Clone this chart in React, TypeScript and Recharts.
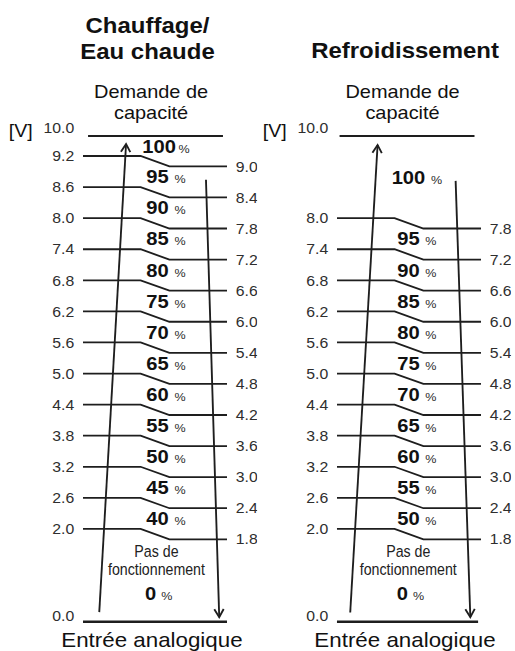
import React from 'react';
import { ComposedChart, Line, Scatter, XAxis, YAxis } from 'recharts';

// ---------------- data ----------------
const inputMin = 0.0;
const inputMax = 10.0;
const offPercent = 0;

const heatRising = [9.2, 8.6, 8.0, 7.4, 6.8, 6.2, 5.6, 5.0, 4.4, 3.8, 3.2, 2.6, 2.0];
const heatFalling = [9.0, 8.4, 7.8, 7.2, 6.6, 6.0, 5.4, 4.8, 4.2, 3.6, 3.0, 2.4, 1.8];
const heatPercents = [100, 95, 90, 85, 80, 75, 70, 65, 60, 55, 50, 45, 40];

const coolRising = [8.0, 7.4, 6.8, 6.2, 5.6, 5.0, 4.4, 3.8, 3.2, 2.6, 2.0];
const coolFalling = [7.8, 7.2, 6.6, 6.0, 5.4, 4.8, 4.2, 3.6, 3.0, 2.4, 1.8];
const coolPercents = [100, 95, 90, 85, 80, 75, 70, 65, 60, 55, 50];

const heatTitle = ['Chauffage/', 'Eau chaude'];
const coolTitle = ['Refroidissement'];
const headerLines = ['Demande de', 'capacité'];
const footerText = 'Entrée analogique';
const offLines = ['Pas de', 'fonctionnement'];
const unitLabel = '[V]';

// ---------------- layout / style ----------------
const S = 1.09; // horizontal stretch of the whole drawing
const NARROW_K = 0.79; // horizontal squeeze of the condensed label
const FONT = "'Liberation Sans', Arial, Helvetica, sans-serif";
const INK = '#1e1e1e';
const LABEL = '#2e2e2e';
const PANEL_W = 236;
const PANEL_H = 651;
const PLOT_TOP = 136;
const PLOT_BOTTOM = 29.3;
const LEFT_AXIS_W = 76.15;
const RIGHT_AXIS_W = 27.74;
const STEP_X = [0, 40, 60, 100];

// broken (piecewise linear) vertical axis of the schematic
const AXIS_BREAKS = [0, 1.8, 9.2, 10];
const AXIS_FRACTIONS = [0, 0.16965, 0.95882, 1];

function toFraction(v: number) {
  const n = AXIS_BREAKS.length;
  for (let i = 1; i < n; i++) {
    if (v <= AXIS_BREAKS[i] || i === n - 1) {
      const a = AXIS_BREAKS[i - 1], b = AXIS_BREAKS[i];
      const fa = AXIS_FRACTIONS[i - 1], fb = AXIS_FRACTIONS[i];
      return fa + ((v - a) / (b - a)) * (fb - fa);
    }
  }
  return 0;
}
function fromFraction(f: number) {
  const n = AXIS_FRACTIONS.length;
  for (let i = 1; i < n; i++) {
    if (f <= AXIS_FRACTIONS[i] || i === n - 1) {
      const a = AXIS_BREAKS[i - 1], b = AXIS_BREAKS[i];
      const fa = AXIS_FRACTIONS[i - 1], fb = AXIS_FRACTIONS[i];
      return a + ((f - fa) / (fb - fa)) * (b - a);
    }
  }
  return 0;
}
function bandMid(a: number, b: number) {
  return fromFraction((toFraction(a) + toFraction(b)) / 2);
}
function brokenScale(dom: number[] = [0, 10], rng: number[] = [0, 1]): any {
  const s: any = (v: number) => rng[0] + toFraction(v) * (rng[1] - rng[0]);
  s.domain = (d?: number[]) => {
    if (d === undefined) return dom.slice();
    dom = d.slice();
    return s;
  };
  s.range = (r?: number[]) => {
    if (r === undefined) return rng.slice();
    rng = r.slice();
    return s;
  };
  s.copy = () => brokenScale(dom.slice(), rng.slice());
  s.ticks = () => AXIS_BREAKS.slice();
  s.tickFormat = () => (v: number) => String(v);
  s.invert = (px: number) => fromFraction((px - rng[0]) / (rng[1] - rng[0]));
  s.nice = () => s;
  s.clamp = () => s;
  return s;
}

const PANELS = [
  {
    key: 'heat', title: heatTitle, rising: heatRising, falling: heatFalling, pcts: heatPercents,
    offsetX: 0, titleX: 135.3, titleY: [33.5, 59], headerX: 138.6, headerY: [98.5, 119], footerX: 139.4,
    pctX: 57.6, offX: 51, topLine: [3.5, 97.2], bottomLine: [0, 100],
    up: [[11.3, 0.21], [29.9, 9.68]], down: [[85.4, 8.74], [94.6, 0.1]], tightTop: true,
  },
  {
    key: 'cool', title: coolTitle, rising: coolRising, falling: coolFalling, pcts: coolPercents,
    offsetX: 233, titleX: 138.6, titleY: [58.3], headerX: 136.3, headerY: [98.5, 119], footerX: 138.6,
    pctX: 55.5, offX: 49.5, topLine: [1.8, 95.5], bottomLine: [0, 98],
    up: [[9.2, 0.2], [28.2, 9.64]], down: [[82.4, 8.72], [92.6, 0.1]], tightTop: false,
  },
];

// ---------------- renderers ----------------
const renderLeftTick = (p: any) => {
  const v = Number(p.payload.value);
  const dy = v === inputMax ? -2.7 : v === inputMin ? -1 : 5.2;
  return (
    <g>
      <text x={p.x} y={p.y + dy} textAnchor="end" fontFamily={FONT} fontSize={14.5} fill={LABEL}>
        {v.toFixed(1)}
      </text>
      {v === inputMax ? (
        <text x={p.x - 38.1} y={p.y + 0.7} textAnchor="end" fontFamily={FONT} fontSize={18} fill="#111">
          {unitLabel}
        </text>
      ) : null}
    </g>
  );
};

const renderRightTick = (p: any) => {
  const v = Number(p.payload.value);
  return (
    <text x={p.x} y={p.y + 5.2} textAnchor="start" fontFamily={FONT} fontSize={14.5} fill={LABEL}>
      {v.toFixed(1)}
    </text>
  );
};

const PercentMark = (props: any) => {
  const { cx, cy, payload } = props;
  return (
    <text x={cx} y={cy + 6.6} textAnchor="middle" fontFamily={FONT} fill="#111">
      <tspan fontSize={18.5} fontWeight="bold">{payload.pct}</tspan>
      <tspan dx={payload.tight ? 2.3 : 5.2} fontSize={11.5} fill={LABEL}>%</tspan>
    </text>
  );
};

const OffMark = (props: any) => {
  const { cx, cy, payload } = props;
  return (
    <g>
      <g transform={`translate(${cx} 0) scale(${NARROW_K} 1)`}>
        <text x={0} y={cy - 23.5} textAnchor="middle" fontFamily={FONT} fontSize={16.5} fill="#222">
          {offLines[0]}
        </text>
        <text x={0} y={cy - 5.5} textAnchor="middle" fontFamily={FONT} fontSize={16.5} fill="#222">
          {offLines[1]}
        </text>
      </g>
      <text x={cx + 2} y={cy + 19.5} textAnchor="middle" fontFamily={FONT} fill="#111">
        <tspan fontSize={18.5} fontWeight="bold">{payload.pct}</tspan>
        <tspan dx={4.6} fontSize={11.5} fill={LABEL}>%</tspan>
      </text>
    </g>
  );
};

function Panel({ cfg }: any) {
  const n = cfg.rising.length;
  const steps = cfg.rising.map((r: number, i: number) => [
    { x: STEP_X[0], v: r },
    { x: STEP_X[1], v: r },
    { x: STEP_X[2], v: cfg.falling[i] },
    { x: STEP_X[3], v: cfg.falling[i] },
  ]);
  const pctPoints = cfg.pcts.map((p: number, i: number) => ({
    x: cfg.pctX,
    v: bandMid(i === 0 ? inputMax : cfg.falling[i - 1], cfg.rising[i]),
    pct: p,
    tight: cfg.tightTop && i === 0,
  }));
  const offPoint = [{ x: cfg.offX, v: bandMid(cfg.falling[n - 1], inputMin), pct: offPercent }];
  const topLine = cfg.topLine.map((x: number) => ({ x, v: inputMax }));
  const bottomLine = cfg.bottomLine.map((x: number) => ({ x, v: inputMin }));
  const upArrow = cfg.up.map((p: number[]) => ({ x: p[0], v: p[1] }));
  const downArrow = cfg.down.map((p: number[]) => ({ x: p[0], v: p[1] }));

  return (
    <div style={{ position: 'absolute', left: cfg.offsetX, top: 0, width: PANEL_W, height: PANEL_H }}>
      <ComposedChart
        width={PANEL_W}
        height={PANEL_H}
        margin={{ top: PLOT_TOP, right: 0, bottom: PLOT_BOTTOM, left: 0 }}
      >
        <XAxis type="number" dataKey="x" domain={[0, 100]} hide />
        <YAxis
          yAxisId="L"
          orientation="left"
          type="number"
          dataKey="v"
          domain={[inputMin, inputMax]}
          scale={brokenScale()}
          ticks={[inputMin, ...cfg.rising, inputMax]}
          interval={0}
          width={LEFT_AXIS_W}
          axisLine={false}
          tickLine={false}
          tick={renderLeftTick}
        />
        <YAxis
          yAxisId="R"
          orientation="right"
          type="number"
          dataKey="v"
          domain={[inputMin, inputMax]}
          scale={brokenScale()}
          ticks={cfg.falling}
          interval={0}
          width={RIGHT_AXIS_W}
          axisLine={false}
          tickLine={false}
          tick={renderRightTick}
        />
        <Line yAxisId="L" data={topLine} dataKey="v" type="linear" stroke={INK} strokeWidth={2}
          dot={false} activeDot={false} isAnimationActive={false} />
        <Line yAxisId="L" data={bottomLine} dataKey="v" type="linear" stroke={INK} strokeWidth={2.4}
          dot={false} activeDot={false} isAnimationActive={false} />
        {steps.map((d: any, i: number) => (
          <Line key={`s${i}`} yAxisId="L" data={d} dataKey="v" type="linear" stroke={INK} strokeWidth={1.8}
            dot={false} activeDot={false} isAnimationActive={false} />
        ))}
        <Line yAxisId="L" data={upArrow} dataKey="v" type="linear" stroke={INK} strokeWidth={1.7}
          dot={false} activeDot={false} isAnimationActive={false} markerEnd="url(#arrowOpen)" />
        <Line yAxisId="L" data={downArrow} dataKey="v" type="linear" stroke={INK} strokeWidth={1.7}
          dot={false} activeDot={false} isAnimationActive={false} markerEnd="url(#arrowOpen)" />
        <Scatter yAxisId="R" data={pctPoints} dataKey="v" shape={PercentMark} isAnimationActive={false} />
        <Scatter yAxisId="R" data={offPoint} dataKey="v" shape={OffMark} isAnimationActive={false} />
      </ComposedChart>
      <svg
        width={PANEL_W}
        height={PANEL_H}
        style={{ position: 'absolute', left: 0, top: 0, pointerEvents: 'none', overflow: 'visible' }}
      >
        {cfg.title.map((t: string, i: number) => (
          <text key={t} x={cfg.titleX} y={cfg.titleY[i]} textAnchor="middle" fontFamily={FONT}
            fontSize={22} fontWeight="bold" fill="#111">
            {t}
          </text>
        ))}
        {headerLines.map((t: string, i: number) => (
          <text key={t} x={cfg.headerX} y={cfg.headerY[i]} textAnchor="middle" fontFamily={FONT}
            fontSize={18.3} fill="#111">
            {t}
          </text>
        ))}
        <text x={cfg.footerX} y={647.5} textAnchor="middle" fontFamily={FONT} fontSize={20.5} fill="#111">
          {footerText}
        </text>
      </svg>
    </div>
  );
}

export default function App() {
  return (
    <div
      style={{
        position: 'absolute',
        left: 0,
        top: 0,
        width: 515 / S,
        height: 651,
        transform: `scaleX(${S})`,
        transformOrigin: '0 0',
        background: '#ffffff',
        overflow: 'hidden',
      }}
    >
      <svg width={0} height={0} style={{ position: 'absolute' }}>
        <defs>
          <marker id="arrowOpen" viewBox="-12 -8 16 16" markerWidth={16} markerHeight={16}
            refX={0} refY={0} orient="auto" markerUnits="userSpaceOnUse">
            <path d="M -8 -4.3 L 0 0 L -8 4.3" fill="none" stroke={INK} strokeWidth={1.7} />
          </marker>
        </defs>
      </svg>
      {PANELS.map((cfg) => (
        <Panel key={cfg.key} cfg={cfg} />
      ))}
    </div>
  );
}
